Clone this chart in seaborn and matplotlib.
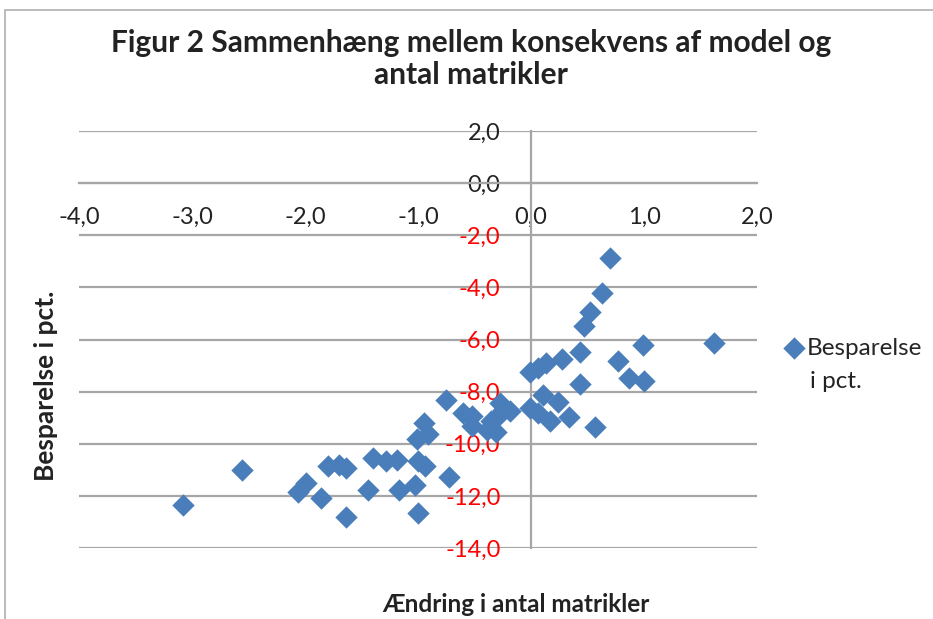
import numpy as np
import pandas as pd
import seaborn as sns
import matplotlib.pyplot as plt
from matplotlib.ticker import FuncFormatter, MultipleLocator
from matplotlib.patches import Rectangle

# --- Data ---
aendring = [-3.08, -2.56, -2.06, -1.99, -1.86, -1.64, -1.80, -1.70, -1.64, -1.44,
            -1.40, -1.28, -1.19, -1.17, -1.03, -1.00, -1.00, -0.94, -0.73, -1.01,
            -0.95, -0.91, -0.75, -0.60, -0.52, -0.52, -0.39, -0.31, -0.27, -0.25,
            -0.19, -0.29, -0.35, 0.70, 0.63, 0.52, 0.47, 0.43, 0.99, 1.62,
            0.77, 0.87, 1.00, 0.43, 0.27, 0.13, 0.06, -0.01, 0.11, 0.24,
            -0.01, 0.06, 0.17, 0.34, 0.57]
besparelse = [-12.35, -11.00, -11.87, -11.51, -12.09, -12.80, -10.87, -10.81, -10.94, -11.77,
              -10.55, -10.65, -10.62, -11.77, -11.58, -12.64, -10.68, -10.85, -11.26, -9.82,
              -9.20, -9.63, -8.33, -8.82, -8.95, -9.33, -9.46, -9.56, -8.44, -8.69,
              -8.75, -8.95, -9.14, -2.88, -4.20, -4.95, -5.49, -6.47, -6.23, -6.13,
              -6.83, -7.47, -7.60, -7.70, -6.74, -6.90, -7.09, -7.26, -8.12, -8.40,
              -8.63, -8.82, -9.13, -8.97, -9.37]

df = pd.DataFrame({"x": aendring, "y": besparelse})

sns.set_style("white")
plt.rcParams['font.family'] = ['Lato', 'DejaVu Sans']

fig = plt.figure(figsize=(9.33, 6.19), dpi=100)
ax = fig.add_axes([79 / 933, 1 - 548 / 619, (757 - 79) / 933, (548 - 131) / 619])

# chart border like Excel
fig.patches.append(Rectangle((5 / 933, -0.1), 2, 1.1 - 10 / 619, transform=fig.transFigure,
                             fill=False, edgecolor="#b0b0b0", linewidth=1.2))

sns.scatterplot(data=df, x="x", y="y", marker="D", s=130, color="#4a7ebb",
                edgecolor="#4a7ebb", linewidth=0, ax=ax, label="Besparelse", zorder=3)

ax.set_xlim(-4, 2)
ax.set_ylim(-14, 2)
ax.xaxis.set_major_locator(MultipleLocator(1))
ax.yaxis.set_major_locator(MultipleLocator(2))
fmt = FuncFormatter(lambda v, p: f"{v:.1f}".replace(".", ","))
ax.xaxis.set_major_formatter(fmt)
ax.yaxis.set_major_formatter(fmt)

ax.grid(axis="y", color="#a6a6a6", linewidth=1.6)
ax.grid(axis="x", visible=False)
ax.set_axisbelow(True)

for s in ["top", "right"]:
    ax.spines[s].set_visible(False)
ax.spines["left"].set_position(("data", 0))
ax.spines["bottom"].set_position(("data", 0))
for s in ["left", "bottom"]:
    ax.spines[s].set_color("#a6a6a6")
    ax.spines[s].set_linewidth(1.6)

ax.tick_params(axis="x", direction="out", length=6, width=1.4, color="#a6a6a6",
               pad=11, labelsize=17, labelcolor="#222222")
ax.tick_params(axis="y", direction="out", length=6, width=1.4, color="#a6a6a6",
               pad=16, labelsize=17)
for lab, v in zip(ax.get_yticklabels(), ax.get_yticks()):
    lab.set_color("#ff0000" if v < 0 else "#222222")

ax.set_xlabel("")
ax.set_ylabel("")
fig.text(516 / 933, 1 - 605 / 619, "Ændring i antal matrikler", ha="center", va="center",
         fontsize=17.5, fontweight="bold", color="#222222")
fig.text(46 / 933, 1 - 386 / 619, "Besparelse i pct.", ha="center", va="center",
         rotation=90, fontsize=19, fontweight="bold", color="#222222")
fig.text(471 / 933, 1 - 59 / 619, "Figur 2 Sammenhæng mellem konsekvens af model og\nantal matrikler",
         ha="center", va="center", fontsize=21.5, fontweight="bold", color="#222222",
         linespacing=1.2)

ax.legend(loc="center left", bbox_to_anchor=(784 / 933, 1 - 348 / 619),
          bbox_transform=fig.transFigure, frameon=False, fontsize=17.5,
          handletextpad=0.15, handlelength=0.8, borderaxespad=0, borderpad=0)
fig.text(810 / 933, 1 - 381 / 619, "i pct.", ha="left", va="center",
         fontsize=17.5, color="#222222")

fig.savefig("out.png", dpi=100)
